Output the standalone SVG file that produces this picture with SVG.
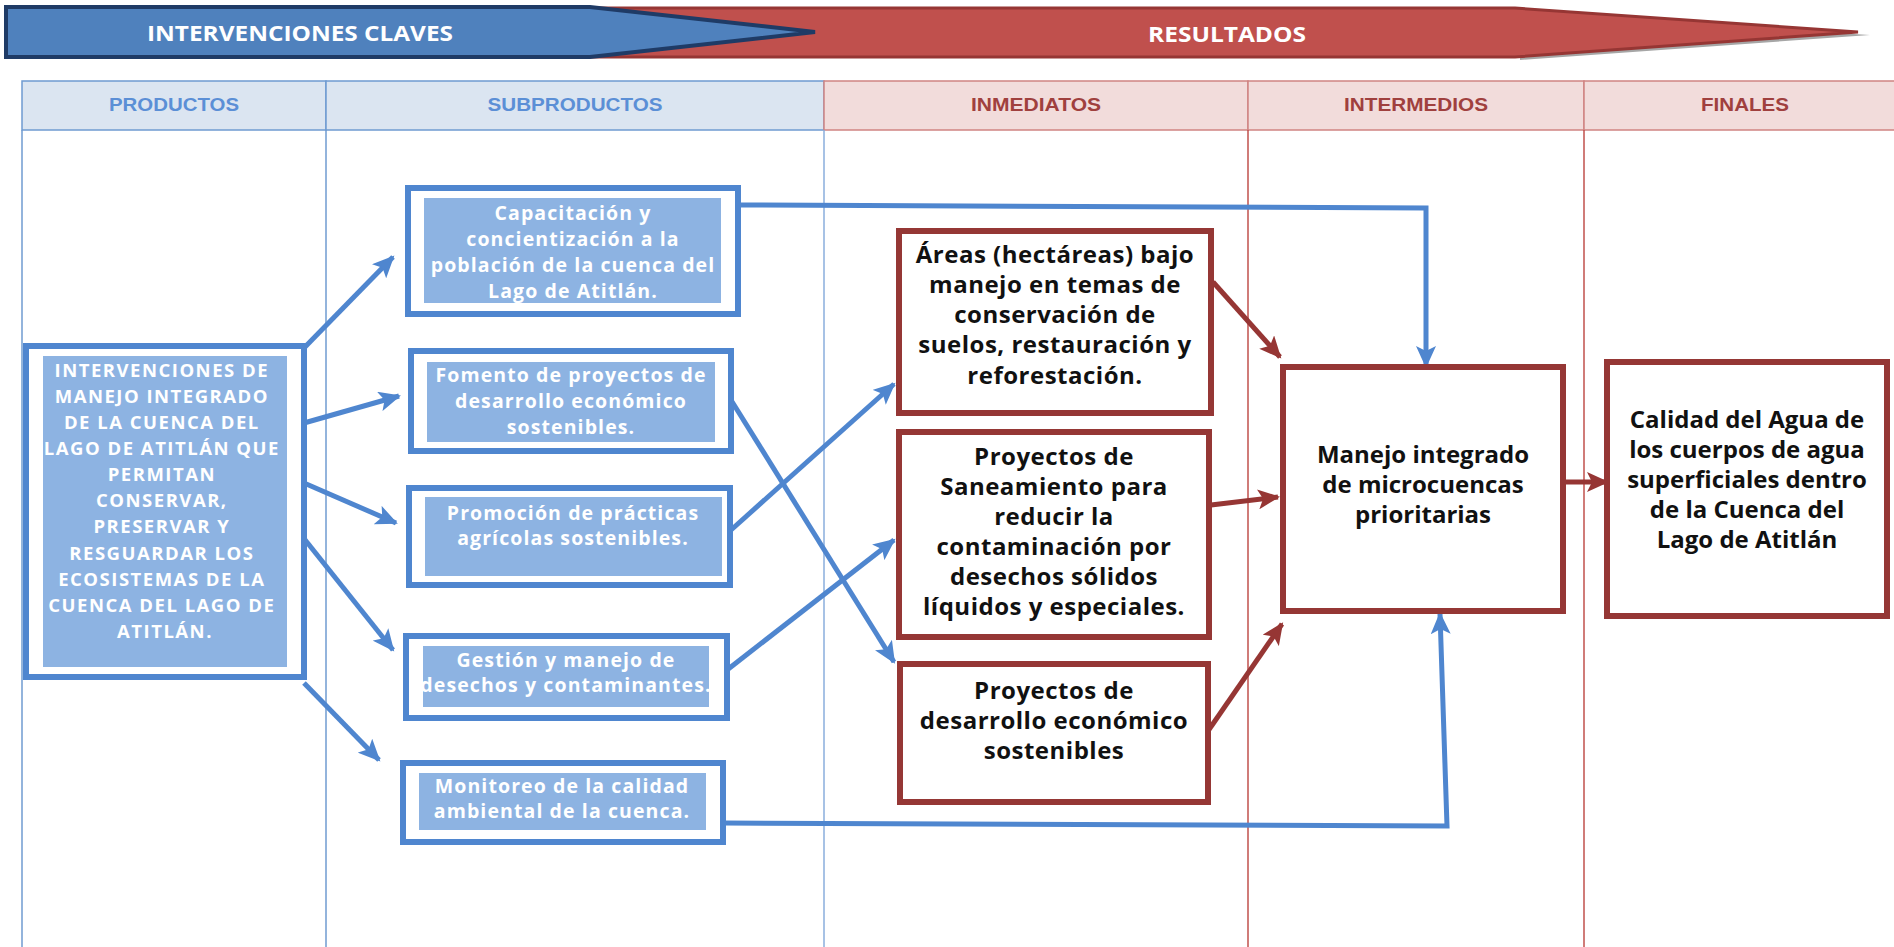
<svg xmlns="http://www.w3.org/2000/svg" width="1894" height="947" viewBox="0 0 1894 947">
<style>
.bo{fill:#fff;stroke:#4f86cf;stroke-width:6}
.bi{fill:#8db3e2}
.ro{fill:#fff;stroke:#953735;stroke-width:6}
.wt{font-family:"Open Sans","DejaVu Sans",sans-serif;font-weight:bold;fill:#fff;text-anchor:middle}
.st{font-size:19.5px;letter-spacing:1.1px}
.bt{font-family:"Open Sans","DejaVu Sans",sans-serif;font-weight:bold;fill:#111;text-anchor:middle;font-size:24px}
.hb{font-family:"Liberation Sans",Arial,sans-serif;font-weight:bold;font-size:18px;fill:#5b8fd6;text-anchor:middle}
.hr{font-family:"Liberation Sans",Arial,sans-serif;font-weight:bold;font-size:18px;fill:#a0403e;text-anchor:middle}
.ban{font-family:"Open Sans","DejaVu Sans",sans-serif;font-weight:bold;font-size:22px;fill:#fff;text-anchor:middle}
.cb{fill:none;stroke:#4f86cf;stroke-width:5}
.cr{fill:none;stroke:#963634;stroke-width:5}
</style>
<defs>
<marker id="ab" markerUnits="userSpaceOnUse" markerWidth="24" markerHeight="20" refX="20" refY="10" orient="auto"><path d="M0,0 L22,10 L0,20 L5,10 Z" fill="#4f86cf"/></marker>
<marker id="ar" markerUnits="userSpaceOnUse" markerWidth="24" markerHeight="20" refX="20" refY="10" orient="auto"><path d="M0,0 L22,10 L0,20 L5,10 Z" fill="#963634"/></marker>
</defs>
<rect width="1894" height="947" fill="#fff"/>
<g id="banner">
<polygon points="1870,35 1520,14 1520,60" fill="#a6a6a6"/>
<polygon points="560,8 1515,8 1858,32 1515,57 560,57" fill="#c0504d" stroke="#963634" stroke-width="3"/>
<polygon points="6,7 590,7 815,32 590,57 6,57" fill="#4f81bd" stroke="#1f3b66" stroke-width="4"/>
<text class="ban" x="300" y="41" textLength="306" lengthAdjust="spacingAndGlyphs">INTERVENCIONES CLAVES</text>
<text class="ban" x="1227" y="42" textLength="158" lengthAdjust="spacingAndGlyphs">RESULTADOS</text>
</g>
<g id="table">
<rect x="22" y="81" width="304" height="49" fill="#dbe5f1" stroke="#6f9bd1" stroke-width="1.5"/>
<rect x="326" y="81" width="498" height="49" fill="#dbe5f1" stroke="#6f9bd1" stroke-width="1.5"/>
<rect x="824" y="81" width="424" height="49" fill="#f2dcdb" stroke="#d08482" stroke-width="1.5"/>
<rect x="1248" y="81" width="336" height="49" fill="#f2dcdb" stroke="#d08482" stroke-width="1.5"/>
<rect x="1584" y="81" width="312" height="49" fill="#f2dcdb" stroke="#d08482" stroke-width="1.5"/>
<line x1="22" y1="130" x2="22" y2="947" stroke="#6f9bd1" stroke-width="1.5"/>
<line x1="326" y1="130" x2="326" y2="947" stroke="#6f9bd1" stroke-width="1.5"/>
<line x1="824" y1="130" x2="824" y2="947" stroke="#8aaedc" stroke-width="1.5"/>
<line x1="1248" y1="130" x2="1248" y2="947" stroke="#c0504d" stroke-width="1.5"/>
<line x1="1584" y1="130" x2="1584" y2="947" stroke="#c0504d" stroke-width="1.5"/>
<text class="hb" x="174" y="111" textLength="130" lengthAdjust="spacingAndGlyphs">PRODUCTOS</text>
<text class="hb" x="575" y="111" textLength="175" lengthAdjust="spacingAndGlyphs">SUBPRODUCTOS</text>
<text class="hr" x="1036" y="111" textLength="130" lengthAdjust="spacingAndGlyphs">INMEDIATOS</text>
<text class="hr" x="1416" y="111" textLength="144" lengthAdjust="spacingAndGlyphs">INTERMEDIOS</text>
<text class="hr" x="1745" y="111" textLength="88" lengthAdjust="spacingAndGlyphs">FINALES</text>
</g>
<g id="connectors">
<line class="cb" x1="304" y1="348" x2="393" y2="257" marker-end="url(#ab)"/>
<line class="cb" x1="304" y1="423" x2="399" y2="396" marker-end="url(#ab)"/>
<line class="cb" x1="304" y1="483" x2="396" y2="523" marker-end="url(#ab)"/>
<line class="cb" x1="302" y1="536" x2="393" y2="650" marker-end="url(#ab)"/>
<line class="cb" x1="304" y1="683" x2="379" y2="760" marker-end="url(#ab)"/>
<line class="cb" x1="731" y1="400" x2="894" y2="662" marker-end="url(#ab)"/>
<line class="cb" x1="731" y1="530" x2="894" y2="384" marker-end="url(#ab)"/>
<line class="cb" x1="727" y1="670" x2="894" y2="540" marker-end="url(#ab)"/>
<polyline class="cb" points="738,205 1426,208 1426,366" marker-end="url(#ab)"/>
<polyline class="cb" points="723,823 1447,826 1440,614" marker-end="url(#ab)"/>
<line class="cr" x1="1213" y1="282" x2="1280" y2="357" marker-end="url(#ar)"/>
<line class="cr" x1="1211" y1="505" x2="1278" y2="497" marker-end="url(#ar)"/>
<line class="cr" x1="1208" y1="731" x2="1282" y2="624" marker-end="url(#ar)"/>
<line class="cr" x1="1563" y1="482" x2="1607" y2="482" marker-end="url(#ar)"/>
</g>
<g id="producto">
<rect class="bo" x="26" y="346" width="278" height="331"/>
<rect class="bi" x="43" y="356" width="244" height="311"/>
<text class="wt" font-size="18.5" letter-spacing="1.5">
<tspan x="165" y="377">INTERVENCIONES DE</tspan>
<tspan x="165" y="403">MANEJO INTEGRADO</tspan>
<tspan x="165" y="429">DE LA CUENCA DEL</tspan>
<tspan x="165" y="455">LAGO DE ATITLÁN QUE</tspan>
<tspan x="165" y="481">PERMITAN</tspan>
<tspan x="165" y="507">CONSERVAR,</tspan>
<tspan x="165" y="533">PRESERVAR Y</tspan>
<tspan x="165" y="560">RESGUARDAR LOS</tspan>
<tspan x="165" y="586">ECOSISTEMAS DE LA</tspan>
<tspan x="165" y="612">CUENCA DEL LAGO DE</tspan>
<tspan x="165" y="638">ATITLÁN.</tspan>
</text>
</g>
<g id="sub-capacitacion">
<rect class="bo" x="408" y="188" width="330" height="126"/>
<rect class="bi" x="424" y="198" width="297" height="105"/>
<text class="wt st"><tspan x="573" y="220">Capacitación y</tspan><tspan x="573" y="246">concientización a la</tspan><tspan x="573" y="272">población de la cuenca del</tspan><tspan x="573" y="298">Lago de Atitlán.</tspan></text>
</g>
<g id="sub-fomento">
<rect class="bo" x="411" y="351" width="320" height="100"/>
<rect class="bi" x="427" y="362" width="288" height="80"/>
<text class="wt st"><tspan x="571" y="382">Fomento de proyectos de</tspan><tspan x="571" y="408">desarrollo económico</tspan><tspan x="571" y="434">sostenibles.</tspan></text>
</g>
<g id="sub-promocion">
<rect class="bo" x="409" y="488" width="321" height="97"/>
<rect class="bi" x="425" y="497" width="297" height="79"/>
<text class="wt st"><tspan x="573" y="520">Promoción de prácticas</tspan><tspan x="573" y="545">agrícolas sostenibles.</tspan></text>
</g>
<g id="sub-gestion">
<rect class="bo" x="406" y="636" width="321" height="82"/>
<rect class="bi" x="423" y="646" width="286" height="61"/>
<text class="wt st"><tspan x="566" y="667">Gestión y manejo de</tspan><tspan x="566" y="692">desechos y contaminantes.</tspan></text>
</g>
<g id="sub-monitoreo">
<rect class="bo" x="403" y="763" width="320" height="79"/>
<rect class="bi" x="419" y="773" width="287" height="57"/>
<text class="wt st"><tspan x="562" y="793">Monitoreo de la calidad</tspan><tspan x="562" y="818">ambiental de la cuenca.</tspan></text>
</g>
<g id="res-areas">
<rect class="ro" x="899" y="231" width="312" height="182"/>
<text class="bt" letter-spacing="0.5"><tspan x="1055" y="263">Áreas (hectáreas) bajo</tspan><tspan x="1055" y="293">manejo en temas de</tspan><tspan x="1055" y="323">conservación de</tspan><tspan x="1055" y="353">suelos, restauración y</tspan><tspan x="1055" y="384">reforestación.</tspan></text>
</g>
<g id="res-saneamiento">
<rect class="ro" x="899" y="432" width="310" height="205"/>
<text class="bt" letter-spacing="0.5"><tspan x="1054" y="465">Proyectos de</tspan><tspan x="1054" y="495">Saneamiento para</tspan><tspan x="1054" y="525">reducir la</tspan><tspan x="1054" y="555">contaminación por</tspan><tspan x="1054" y="585">desechos sólidos</tspan><tspan x="1054" y="615">líquidos y especiales.</tspan></text>
</g>
<g id="res-desarrollo">
<rect class="ro" x="900" y="664" width="308" height="138"/>
<text class="bt" letter-spacing="0.5"><tspan x="1054" y="699">Proyectos de</tspan><tspan x="1054" y="729">desarrollo económico</tspan><tspan x="1054" y="759">sostenibles</tspan></text>
</g>
<g id="res-manejo">
<rect class="ro" x="1283" y="367" width="280" height="244"/>
<text class="bt"><tspan x="1423" y="463">Manejo integrado</tspan><tspan x="1423" y="493">de microcuencas</tspan><tspan x="1423" y="523">prioritarias</tspan></text>
</g>
<g id="res-calidad">
<rect class="ro" x="1607" y="362" width="280" height="254"/>
<text class="bt"><tspan x="1747" y="428">Calidad del Agua de</tspan><tspan x="1747" y="458">los cuerpos de agua</tspan><tspan x="1747" y="488">superficiales dentro</tspan><tspan x="1747" y="518">de la Cuenca del</tspan><tspan x="1747" y="548">Lago de Atitlán</tspan></text>
</g>
</svg>
